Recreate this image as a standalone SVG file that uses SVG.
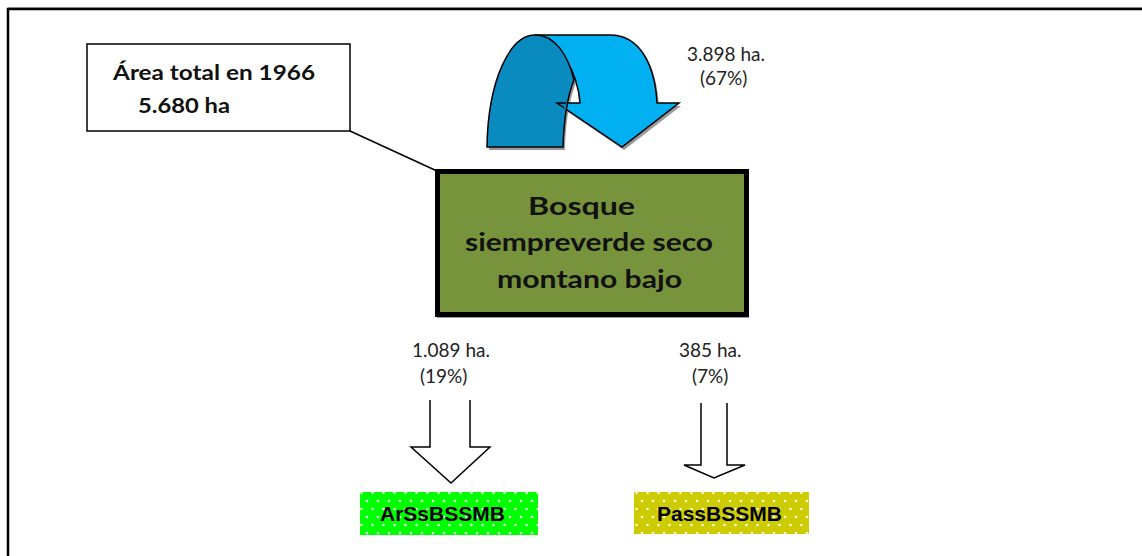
<svg xmlns="http://www.w3.org/2000/svg" width="1142" height="556" viewBox="0 0 1142 556">
<style>
.lbl{font-family:Lato,"Open Sans","Liberation Sans",sans-serif;font-size:19px;fill:#222}
.bold{font-family:Lato,"Open Sans","Liberation Sans",sans-serif;font-weight:bold;fill:#111}
.code{font-family:"Liberation Sans",Arial,sans-serif;font-weight:bold;font-size:21px;fill:#000}
.hollow{fill:#fff;stroke:#000;stroke-width:1.5;stroke-linejoin:miter}
</style>
<defs>
<pattern id="dots" width="11" height="16" patternUnits="userSpaceOnUse" x="2" y="2">
<circle cx="2" cy="3" r="1.3" fill="#fff" fill-opacity="0.85"/>
<circle cx="7.5" cy="11" r="1.3" fill="#fff" fill-opacity="0.85"/>
</pattern>
</defs>
<rect width="1142" height="556" fill="#fff"/>
<rect x="8" y="9" width="1200" height="600" fill="none" stroke="#000" stroke-width="2.5"/>
<line x1="8" y1="7.5" x2="1142" y2="7.5" stroke="#888" stroke-width="1"/>

<g id="connectors">
<line x1="350" y1="131" x2="437" y2="171" stroke="#000" stroke-width="1.5"/>
<g id="curved-arrow">
<g fill="#999" transform="translate(2,3)">
<path d="M535,35 L610,35 C640,35 655,65 657,103 L679,103 L622,147 L557,103 L580,103 C578,75 560,38 535,35 Z"/>
<path d="M487,147 C488,80 510,35 535,35 C555,35 568,55 574,80 C568,95 564,115 563,147 Z"/>
</g>
<path d="M535,35 L610,35 C640,35 655,65 657,103 L679,103 L622,147 L557,103 L580,103 C578,75 560,38 535,35 Z" fill="#00B0F0" stroke="#000" stroke-width="1.5"/>
<path d="M487,147 C488,80 510,35 535,35 C555,35 568,55 574,80 C568,95 564,115 563,147 Z" fill="#0A8BC0" stroke="#000" stroke-width="1.5"/>
<path d="M566,103 L557,103 L564.5,108" fill="none" stroke="#000" stroke-width="1.5"/>
</g>
<path class="hollow" d="M430,400 L430,447 L411,447 L451,483 L490,447 L470,447 L470,400"/>
<path class="hollow" d="M701,403 L701,465 L684,465 L714,478 L745,465 L727,465 L727,403"/>
</g>

<g id="callout">
<rect x="87" y="44" width="263" height="87" fill="#fff" stroke="#000" stroke-width="1.5"/>
<text class="bold" x="113" y="80" font-size="21" textLength="202" lengthAdjust="spacingAndGlyphs">Área total en 1966</text>
<text class="bold" x="138" y="113" font-size="21" textLength="92" lengthAdjust="spacingAndGlyphs">5.680 ha</text>
</g>

<g id="bosque">
<rect x="437" y="171" width="312" height="147" fill="#999"/>
<rect x="437.5" y="171.5" width="309" height="143" fill="#77933C" stroke="#000" stroke-width="5"/>
<text class="bold" x="528" y="215" font-size="25" textLength="107" lengthAdjust="spacingAndGlyphs">Bosque</text>
<text class="bold" x="465" y="251" font-size="25" textLength="248" lengthAdjust="spacingAndGlyphs">siempreverde seco</text>
<text class="bold" x="497" y="288" font-size="25" textLength="185" lengthAdjust="spacingAndGlyphs">montano bajo</text>
</g>

<g id="label-67">
<text class="lbl" x="687" y="61">3.898 ha.</text>
<text class="lbl" x="700" y="85">(67%)</text>
</g>
<g id="label-19">
<text class="lbl" x="412" y="357">1.089 ha.</text>
<text class="lbl" x="420" y="383">(19%)</text>
</g>
<g id="label-7">
<text class="lbl" x="679" y="357">385 ha.</text>
<text class="lbl" x="692" y="383">(7%)</text>
</g>

<g id="arssbssmb">
<rect x="360" y="492" width="178" height="43" fill="#00FF00"/>
<rect x="360" y="492" width="178" height="43" fill="url(#dots)"/>
<text class="code" x="380" y="521">ArSsBSSMB</text>
</g>
<g id="passbssmb">
<rect x="634" y="492" width="175" height="42" fill="#CCCC00"/>
<rect x="634" y="492" width="175" height="42" fill="url(#dots)"/>
<text class="code" x="657" y="521">PassBSSMB</text>
</g>
</svg>
